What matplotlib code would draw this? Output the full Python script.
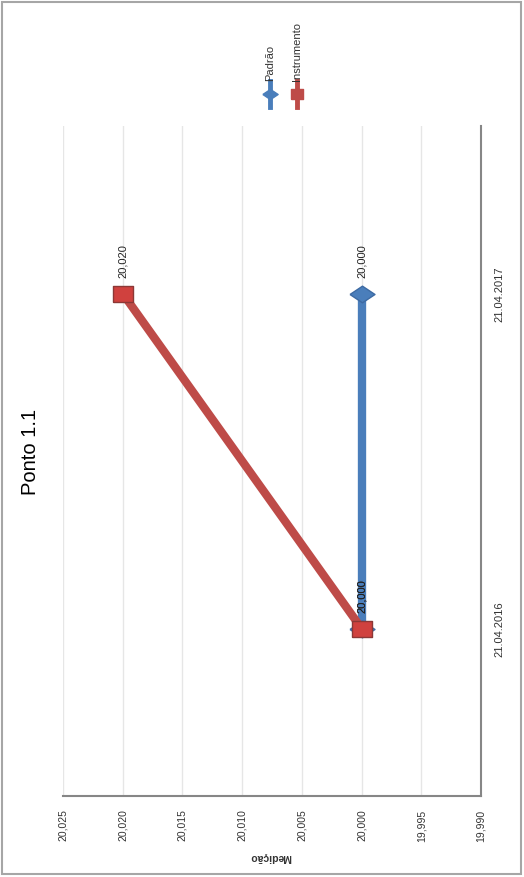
import matplotlib
matplotlib.use("Agg")
import matplotlib.pyplot as plt
import numpy as np
from matplotlib.ticker import FuncFormatter
from matplotlib.lines import Line2D
from matplotlib.patches import Rectangle

plt.rcParams['font.family'] = ['Liberation Sans Narrow', 'Liberation Sans', 'DejaVu Sans']

# dados
datas = ["21.04.2016", "21.04.2017"]
padrao = [20.000, 20.000]
instrumento = [20.000, 20.020]
ticks_medicao = [20.025, 20.020, 20.015, 20.010, 20.005, 20.000, 19.995, 19.990]
titulo = "Ponto 1.1"
eixo_titulo = "Medição"
series = ["Padrão", "Instrumento"]

azul = '#4a7ebb'
vermelho = '#be4b48'

W, H = 524, 878
def fx(px):
    return px / W
def fy(py):
    return 1 - py / H

diamante = [(-1.5, 0), (0, 1), (1.5, 0), (0, -1), (-1.5, 0)]
retangulo = [(-1.25, -1), (1.25, -1), (1.25, 1), (-1.25, 1), (-1.25, -1)]

fig = plt.figure(figsize=(W / 100, H / 100), dpi=100)
ax = fig.add_axes([fx(63), fy(797), fx(481) - fx(63), fy(127) - fy(797)])

pos = np.arange(len(datas))
ax.plot(padrao, pos, color=azul, lw=6, marker=diamante, ms=18,
        mfc=azul, mec='#3d6aa3', zorder=3, solid_capstyle='butt')
ax.plot(instrumento, pos, color=vermelho, lw=6, marker=retangulo, ms=14,
        mfc='#d0413e', mec='#8c3836', zorder=4, solid_capstyle='butt')

fmt = lambda v: f"{v:.3f}".replace('.', ',')
for serie in (padrao, instrumento):
    for i, v in enumerate(serie):
        ax.annotate(fmt(v), (v, pos[i]), xytext=(0, 12), textcoords='offset points',
                    rotation=90, ha='center', va='bottom', fontsize=8, color='#222222',
                    zorder=5)

ax.set_xlim(ticks_medicao[0], ticks_medicao[-1])
ax.set_ylim(-0.5, len(datas) - 0.5)
ax.set_xticks(ticks_medicao)
ax.xaxis.set_major_formatter(FuncFormatter(lambda v, p: fmt(v)))
ax.tick_params(axis='x', length=0, labelrotation=90, labelsize=7.5, pad=9, colors='#333333')
ax.grid(axis='x', color='#e6e6e6', lw=1, zorder=0)
ax.set_axisbelow(True)

ax.yaxis.tick_right()
ax.set_yticks(pos)
ax.set_yticklabels(datas, rotation=90, va='center', fontsize=8, color='#333333')
ax.tick_params(axis='y', length=0, pad=10)

for s in ('top', 'left'):
    ax.spines[s].set_visible(False)
for s in ('bottom', 'right'):
    ax.spines[s].set_color('#868686')
    ax.spines[s].set_linewidth(1.5)

# titulo e eixo
fig.text(fx(31), fy(452), titulo, rotation=90, fontsize=14.5, ha='center', va='center')
fig.text(fx(270), fy(857), eixo_titulo, rotation=180, fontsize=7.5, fontweight='bold',
         ha='center', va='center', color='#333333')

# legenda
for nome, x, cor, mk, ms in [(series[0], 270, azul, diamante, 11),
                             (series[1], 297, vermelho, retangulo, 9)]:
    fig.add_artist(Line2D([fx(x), fx(x)], [fy(108), fy(82)], transform=fig.transFigure,
                          color=cor, lw=3.5))
    fig.add_artist(Line2D([fx(x)], [fy(95)], transform=fig.transFigure, color=cor,
                          marker=mk, ms=ms, mfc=cor, mec=cor))
    fig.text(fx(x), fy(81), nome, rotation=90, ha='center', va='bottom', fontsize=8,
             color='#333333')

fig.add_artist(Rectangle((fx(2), fy(875)), fx(521) - fx(2), fy(3) - fy(875),
                         transform=fig.transFigure, fill=False, ec='#a6a6a6', lw=1.5))

fig.savefig('out.png', dpi=100)
